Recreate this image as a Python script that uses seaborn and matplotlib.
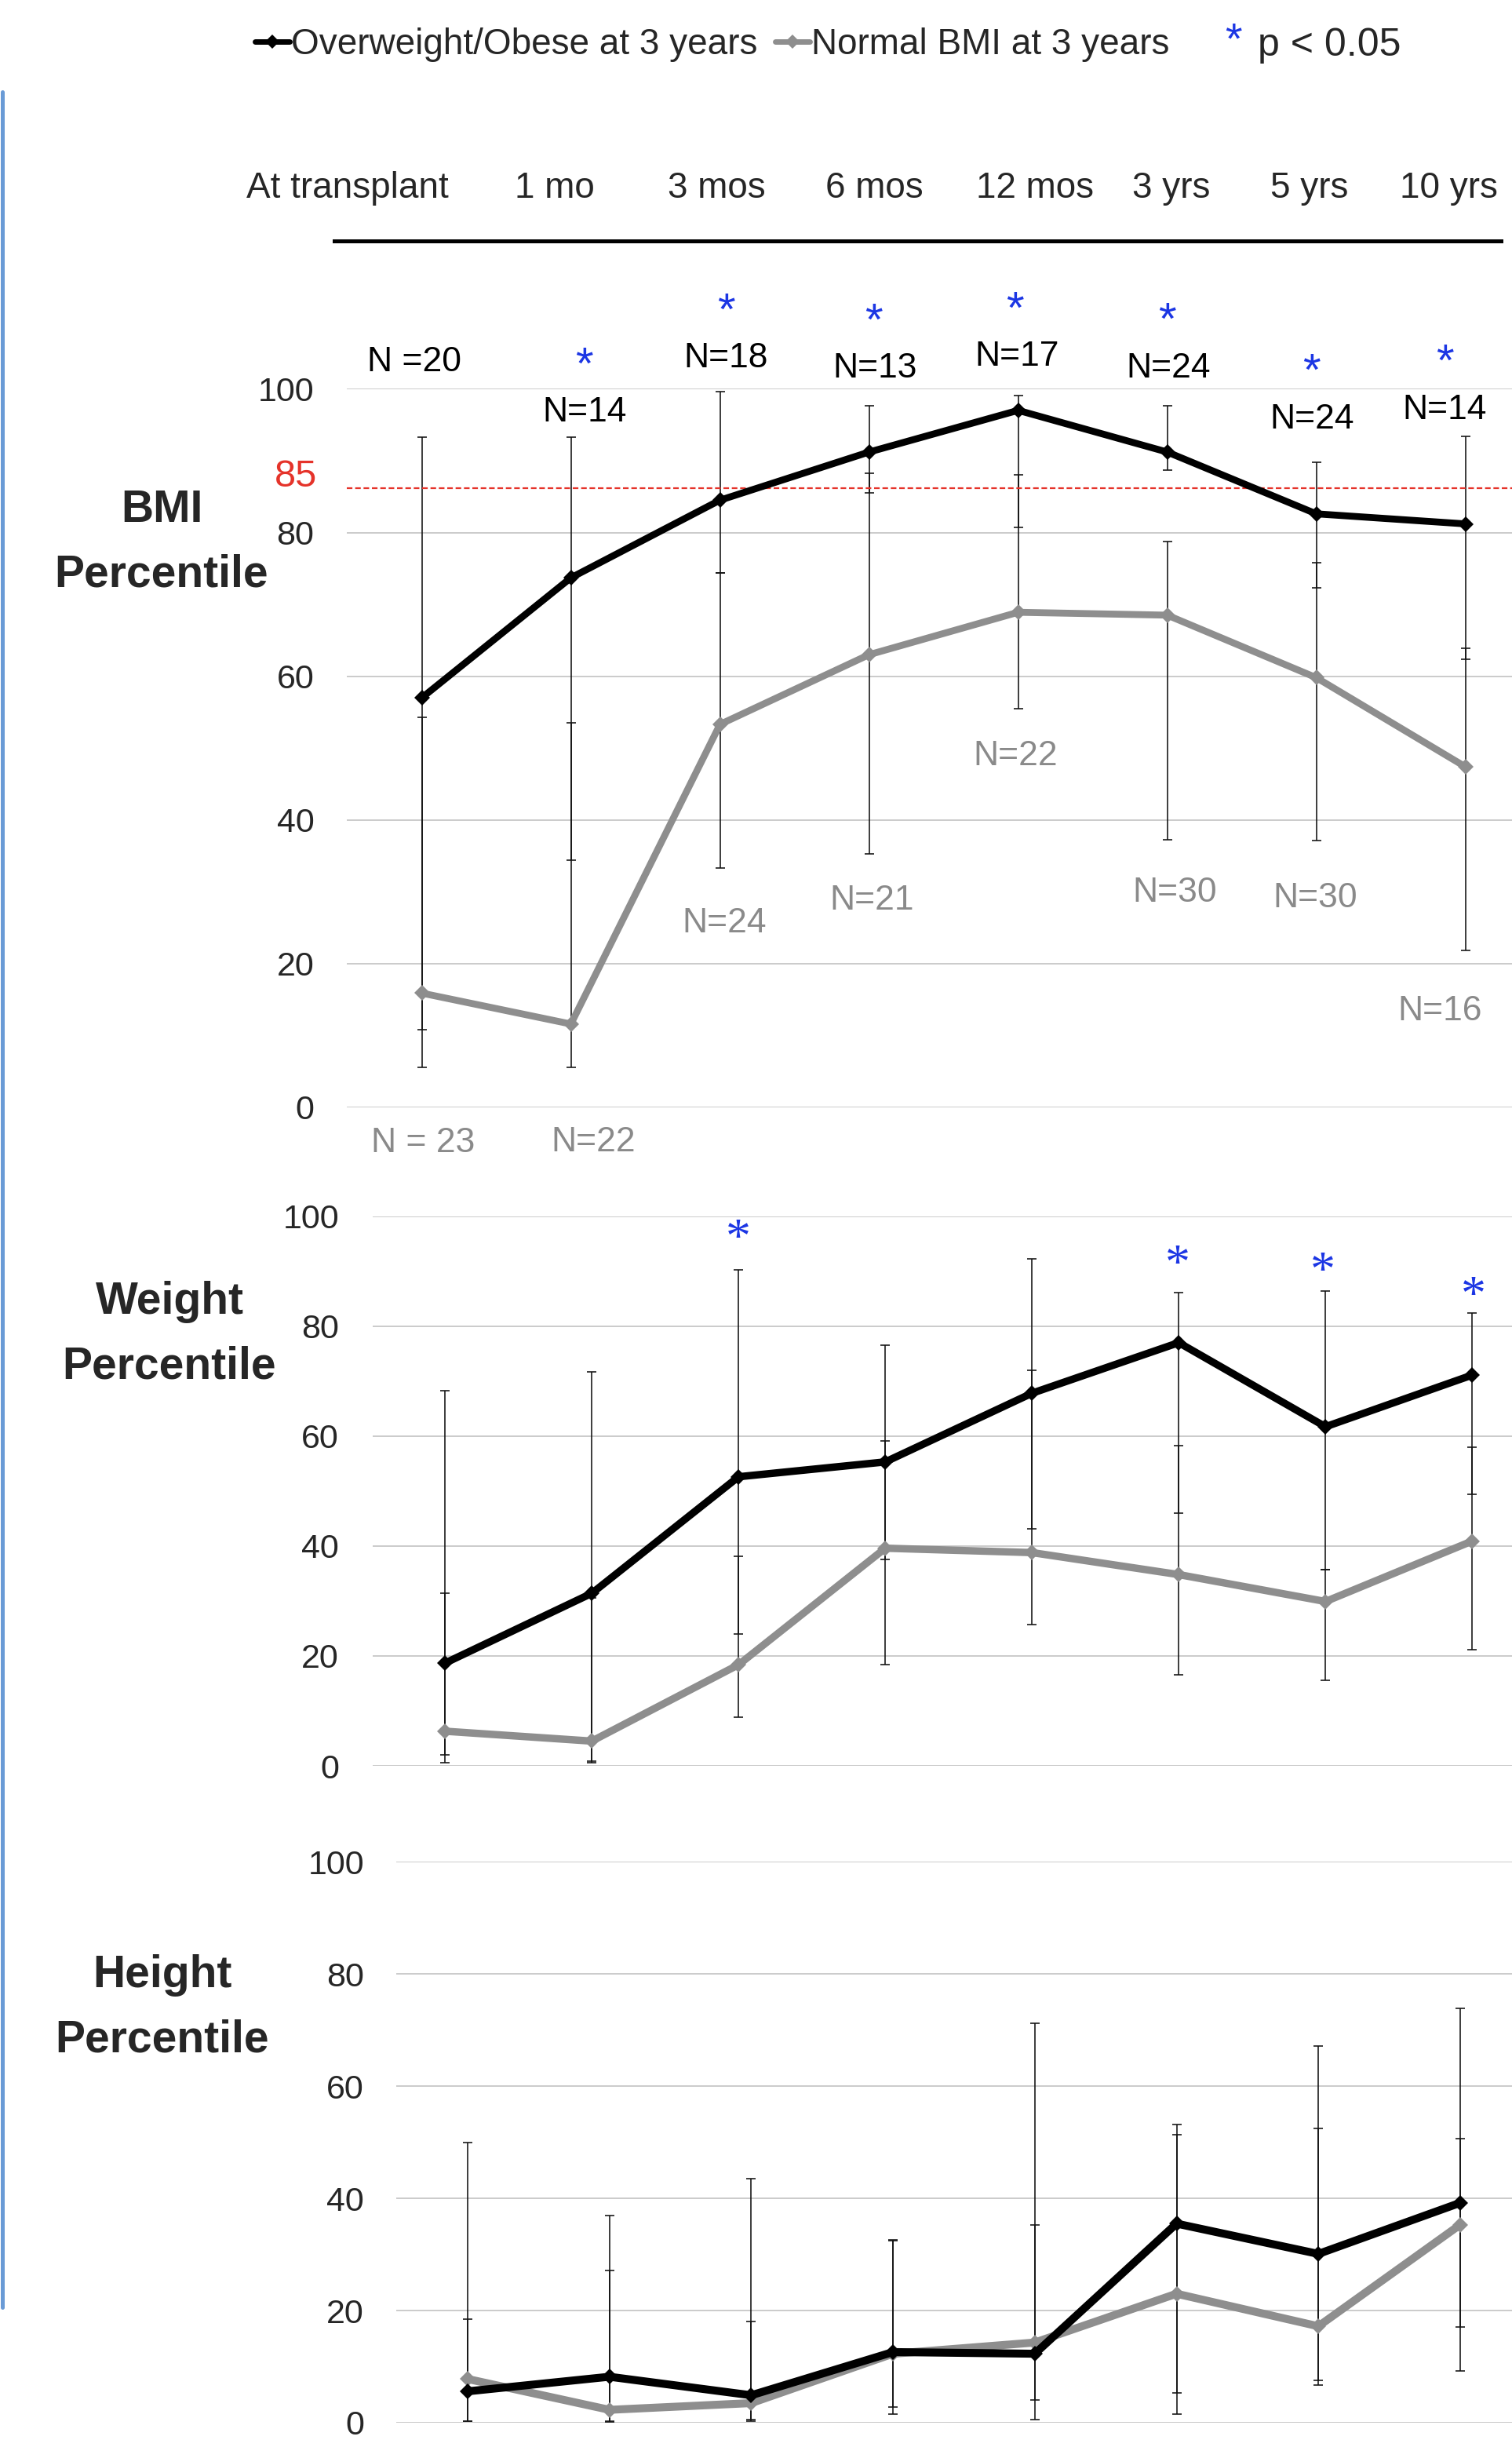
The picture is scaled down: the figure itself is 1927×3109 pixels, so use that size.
import matplotlib
matplotlib.use("Agg")
import matplotlib.pyplot as plt
import seaborn as sns
import pandas as pd
from matplotlib.lines import Line2D

# ---------------- data ----------------
timepoints = ["At transplant", "1 mo", "3 mos", "6 mos", "12 mos", "3 yrs", "5 yrs", "10 yrs"]
grp_ow = "Overweight/Obese at 3 years"
grp_nl = "Normal BMI at 3 years"

# BMI percentile
bmi_ow = [57.0, 73.7, 84.5, 91.2, 97.0, 91.2, 82.6, 81.2]
bmi_nl = [15.9, 11.6, 53.3, 63.0, 68.9, 68.5, 59.8, 47.4]
bmi_ow_lo = [10.8, 34.4, 74.4, 85.5, 80.7, 88.7, 72.3, 62.4]
bmi_ow_hi = [93.3, 93.3, 99.6, 97.6, 99.1, 97.6, 89.8, 93.4]
bmi_nl_lo = [5.6, 5.6, 33.3, 35.3, 55.5, 37.2, 37.1, 21.8]
bmi_nl_hi = [54.3, 53.5, 74.4, 88.2, 88.0, 78.8, 75.8, 63.9]
bmi_n_ow = ["N =20", "N=14", "N=18", "N=13", "N=17", "N=24", "N=24", "N=14"]
bmi_n_nl = ["N = 23", "N=22", "N=24", "N=21", "N=22", "N=30", "N=30", "N=16"]
bmi_sig = [False, True, True, True, True, True, True, True]
bmi_ref = 86.2
bmi_ref_label = "85"

# Weight percentile
wt_ow = [18.7, 31.4, 52.6, 55.3, 67.8, 77.0, 61.7, 71.1]
wt_nl = [6.3, 4.5, 18.4, 39.6, 38.8, 34.8, 29.9, 40.9]
wt_ow_lo = [2.0, 0.9, 24.0, 37.5, 43.1, 46.0, 35.7, 49.4]
wt_ow_hi = [68.3, 71.7, 90.3, 76.6, 92.3, 86.1, 86.4, 82.4]
wt_nl_lo = [0.5, 0.5, 8.8, 18.4, 25.7, 16.6, 15.6, 21.2]
wt_nl_hi = [31.4, 30.6, 38.1, 59.1, 71.9, 58.3, 35.7, 58.0]
wt_sig = [False, False, True, False, False, True, True, True]

# Height percentile
ht_ow = [5.6, 8.2, 4.9, 12.6, 12.3, 35.5, 30.1, 39.2]
ht_nl = [7.8, 2.3, 3.5, 12.3, 14.3, 23.0, 17.2, 35.3]
ht_ow_lo = [0.3, 0.3, 0.5, 2.8, 0.5, 5.3, 7.6, 9.2]
ht_ow_hi = [18.5, 27.2, 18.1, 32.4, 35.3, 53.2, 67.1, 73.9]
ht_nl_lo = [0.3, 0.1, 0.3, 1.6, 4.0, 1.6, 6.7, 17.1]
ht_nl_hi = [50.0, 37.0, 43.5, 32.6, 71.2, 51.3, 52.4, 50.6]

# ---------------- layout (pixels / label placement) ----------------
W, H = 1927, 3109
tl_label_dx = [-0.43, -0.05, 0.03, 0.08, 0.15, 0.06, -0.02, -0.09]
bmi_n_ow_dx = [-0.05, 0.09, 0.04, 0.04, -0.01, 0.01, -0.03, -0.14]
bmi_n_ow_y = [102.4, 95.5, 103.0, 101.6, 103.2, 101.6, 94.5, 95.8]
bmi_n_nl_dx = [0.01, 0.15, 0.03, 0.02, -0.02, 0.05, -0.01, -0.17]
bmi_n_nl_y = [-6.2, -6.1, 24.4, 27.5, 47.6, 28.6, 27.9, 12.1]
bmi_sig_dx = [0, 0.09, 0.04, 0.03, -0.02, 0.0, -0.03, -0.14]
bmi_sig_y = [0, 105.1, 112.6, 111.2, 112.8, 111.3, 104.2, 105.5]
wt_sig_dx = [0, 0, 0.0, 0, 0, -0.01, -0.02, 0.01]
wt_sig_y = [0, 0, 98.0, 0, 0, 93.3, 91.9, 87.5]

BLUE = "#1c36e4"
GRAY = "#8e8e8e"
RED = "#e5332a"
palette = {grp_ow: "black", grp_nl: GRAY}

sns.set_style("white")
plt.rcParams["font.family"] = ["Liberation Sans", "DejaVu Sans"]

fig = plt.figure(figsize=(W / 100, H / 100), dpi=100)


def px_axes(left, top, right, bottom):
    return fig.add_axes([left / W, 1 - bottom / H, (right - left) / W, (bottom - top) / H])


def star(ax, x, y, fs, family, coords, mid_em):
    # put the ink centre of the asterisk at (x, y)
    ax.annotate("*", xy=(x, y), xycoords=coords, xytext=(0, -mid_em * fs),
                textcoords="offset points", ha="center", va="baseline",
                fontsize=fs, color=BLUE, family=family, annotation_clip=False)


def panel(ax, ow, nl, ow_lo, ow_hi, nl_lo, nl_hi, x0, dx, left, right, lw, pad):
    n = len(timepoints)
    pos = list(range(n))
    ax.set_xlim((left - x0) / dx, (right - x0) / dx)
    ax.set_ylim(0, 100)
    for mid, lo, hi in [(ow, ow_lo, ow_hi), (nl, nl_lo, nl_hi)]:
        ax.errorbar(pos, mid,
                    yerr=[[m - l for m, l in zip(mid, lo)], [h - m for m, h in zip(mid, hi)]],
                    fmt="none", ecolor="#111111", elinewidth=1.15, capsize=4.3,
                    capthick=1.15, zorder=2, clip_on=False)
    df = pd.DataFrame({"pos": pos * 2, "value": ow + nl,
                       "group": [grp_ow] * n + [grp_nl] * n})
    sns.lineplot(data=df, x="pos", y="value", hue="group", hue_order=[grp_nl, grp_ow],
                 palette=palette, marker="D", markersize=10, markeredgewidth=0,
                 linewidth=lw, errorbar=None, legend=False, ax=ax, zorder=3)
    ax.set_xlabel("")
    ax.set_ylabel("")
    ax.set_xticks([])
    ax.set_yticks([0, 20, 40, 60, 80, 100])
    ax.tick_params(axis="y", length=0, pad=pad, labelsize=31)
    ax.grid(axis="y", color="#bdbdbd", linewidth=1.1)
    ax.set_axisbelow(True)
    sns.despine(ax=ax, left=True, bottom=True)
    ax.patch.set_alpha(0)


# ---------------- BMI panel ----------------
ax_bmi = px_axes(442, 495.4, W, 1411)
panel(ax_bmi, bmi_ow, bmi_nl, bmi_ow_lo, bmi_ow_hi, bmi_nl_lo, bmi_nl_hi,
      537.6, 190, 442, W, 6.3, 30)
ax_bmi.axhline(bmi_ref, color=RED, linewidth=1.6, linestyle=(0, (3.2, 1.6)), zorder=2.5)
ax_bmi.annotate(bmi_ref_label, xy=(0, 87.8), xycoords=ax_bmi.get_yaxis_transform(),
                xytext=(-27, 0), textcoords="offset points", ha="right", va="center",
                fontsize=35, color=RED, annotation_clip=False)
for i, lab in enumerate(bmi_n_ow):
    ax_bmi.text(i + bmi_n_ow_dx[i], bmi_n_ow_y[i], lab, ha="center", va="baseline",
                fontsize=32, color="black", clip_on=False)
for i, lab in enumerate(bmi_n_nl):
    ax_bmi.text(i + bmi_n_nl_dx[i], bmi_n_nl_y[i], lab, ha="center", va="baseline",
                fontsize=32, color="#8a8a8a", clip_on=False)
for i, s in enumerate(bmi_sig):
    if s:
        star(ax_bmi, i + bmi_sig_dx[i], bmi_sig_y[i], 42, ["Liberation Sans"], "data", 0.58)

# ---------------- Weight panel ----------------
ax_wt = px_axes(475, 1549.7, W, 2250)
panel(ax_wt, wt_ow, wt_nl, wt_ow_lo, wt_ow_hi, wt_nl_lo, wt_nl_hi,
      567.3, 187, 475, W, 6.8, 31)
for i, s in enumerate(wt_sig):
    if s:
        star(ax_wt, i + wt_sig_dx[i], wt_sig_y[i], 46, ["Liberation Serif"], "data", 0.5)

# ---------------- Height panel ----------------
ax_ht = px_axes(505, 2372.3, W, 3087)
panel(ax_ht, ht_ow, ht_nl, ht_ow_lo, ht_ow_hi, ht_nl_lo, ht_nl_hi,
      596, 180.7, 505, W, 7.3, 29.5)

# ---------------- panel titles ----------------
for (cx, cy), title in zip([(206, 691), (216, 1700), (207, 2558)],
                           ["BMI\nPercentile", "Weight\nPercentile", "Height\nPercentile"]):
    fig.text(cx / W, 1 - cy / H, title, ha="center", va="center", fontsize=41,
             fontweight="bold", linespacing=1.68)

# ---------------- timeline ----------------
tl = px_axes(426, 180, 1913, 307)
tl.set_xlim((426 - 525) / 191.3, (1913 - 525) / 191.3)
tl.set_ylim(0, 1)
for s in ["top", "left", "right"]:
    tl.spines[s].set_visible(False)
tl.spines["bottom"].set_linewidth(3.6)
tl.spines["bottom"].set_color("black")
tl.set_xticks(range(len(timepoints)))
tl.set_xticklabels([])
tl.set_yticks([])
tl.tick_params(axis="x", direction="inout", length=23, width=1.6, color="black")
tl.patch.set_alpha(0)
for i, lab in enumerate(timepoints):
    tl.text(i + tl_label_dx[i], 0.53, lab, ha="center", va="center", fontsize=33)

# ---------------- legend ----------------
handles = [Line2D([], [], color="black", lw=5, marker="D", markersize=9, mew=0),
           Line2D([], [], color=GRAY, lw=5, marker="D", markersize=9, mew=0)]
fig.legend(handles, [grp_ow, grp_nl], loc="center left", bbox_to_anchor=(325 / W, 1 - 57 / H),
           ncol=2, frameon=False, fontsize=33, handlelength=0.95, handletextpad=0.05,
           columnspacing=0.5, borderpad=0, borderaxespad=0)
fig.text(1603 / W, 1 - 58 / H, "p < 0.05", ha="left", va="center", fontsize=36)
legend_star_fs = 40
fig.text(1572 / W, 1 - (35 + 0.58 * legend_star_fs * 100 / 72) / H, "*", ha="center",
         va="baseline", fontsize=legend_star_fs, color=BLUE)

# left blue rule
fig.add_artist(Line2D([2.5 / W, 2.5 / W], [1 - 117 / H, 1 - 2940 / H],
                      transform=fig.transFigure, color="#6a9bd6", lw=3.6))

fig.savefig("out.png", dpi=100, facecolor="white")
